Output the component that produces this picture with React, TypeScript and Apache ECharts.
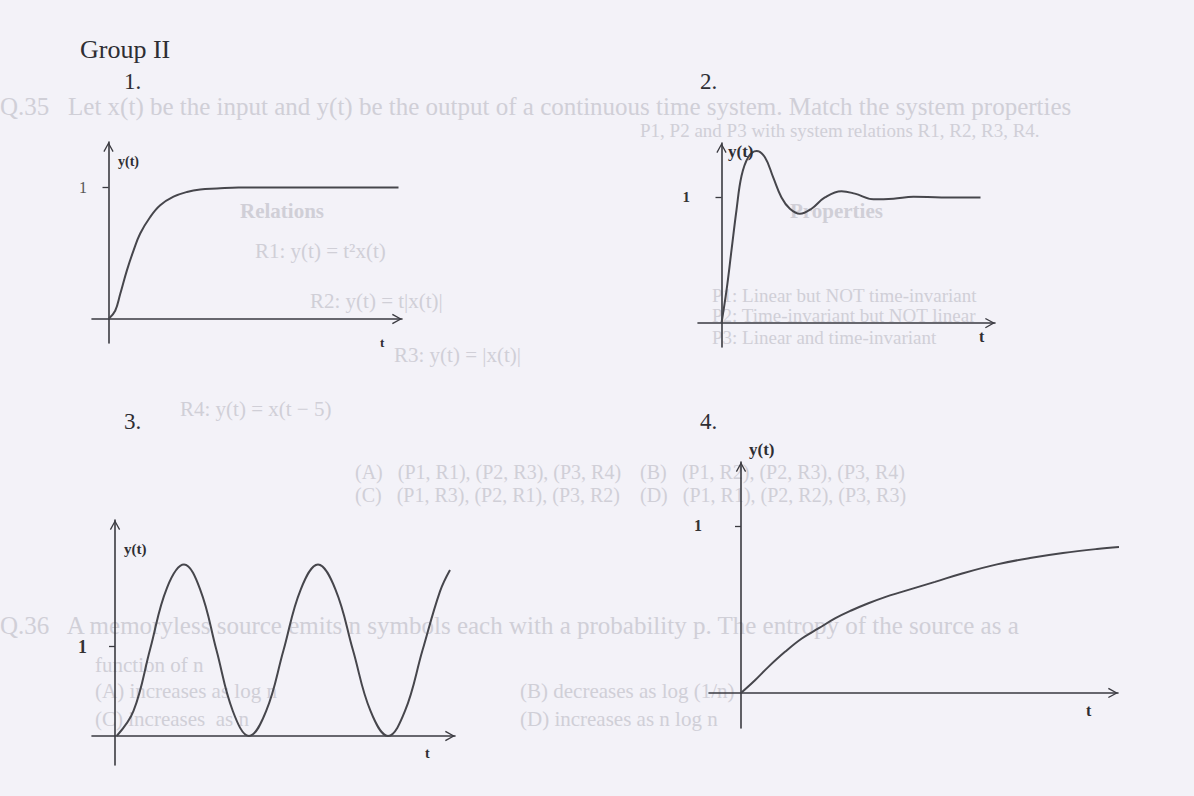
import React, { useEffect, useRef } from "react";
import * as echarts from "echarts";

// ---- data (t in arbitrary units, y normalised so the "1" tick = 1)
const p1T = [0, 0.67, 1.17, 1.84, 2.5, 3.17, 4.17, 5.17, 6.5, 7.84, 9.17, 10.84, 13, 29];
const p1Y = [0, 0.063, 0.19, 0.37, 0.52, 0.65, 0.776, 0.865, 0.93, 0.966, 0.985, 0.992, 1.0, 1.0];

const p2T = [0, 0.5, 1.0, 1.5, 2.0, 2.67, 3.5, 4.34, 5.17, 6.0, 6.84, 7.84, 9.0, 10.34, 12.0, 13.34, 15.2, 17.2, 19.2, 22, 25.9];
const p2Y = [0, 0.26, 0.58, 0.9, 1.17, 1.32, 1.37, 1.32, 1.16, 1.0, 0.91, 0.87, 0.91, 1.0, 1.05, 1.03, 0.985, 0.99, 1.005, 1.0, 1.0];

const p3T = [0.17, 1.85, 3.53, 5.2, 6.9, 8.52, 10.15, 11.78, 13.4, 15.12, 16.85, 18.57, 20.3, 22.05, 23.8, 25.55, 27.3, 29.0, 30.75, 32.5, 33.5];
const p3Y = [0, 0.28, 0.98, 1.66, 1.92, 1.64, 0.96, 0.28, 0, 0.28, 0.96, 1.64, 1.92, 1.64, 0.96, 0.28, 0, 0.28, 0.96, 1.62, 1.86];

const p4T = [0, 0.7, 1.37, 2.2, 3.04, 3.87, 4.7, 5.54, 6.37, 7.2, 8.04, 8.87, 9.7, 11.1, 12.8, 14.45, 16.1, 17.8, 18.9];
const p4Y = [0, 0.076, 0.156, 0.246, 0.326, 0.386, 0.446, 0.495, 0.537, 0.574, 0.605, 0.635, 0.665, 0.717, 0.77, 0.808, 0.838, 0.862, 0.874];

const yTickValues = [1];
const yAxisName = "y(t)";
const xAxisName = "t";
const heading = "Group II";
const panelNumbers = ["1.", "2.", "3.", "4."];

// faint show-through text from the other side of the scanned page
const bleedText = [
  "Q.35   Let x(t) be the input and y(t) be the output of a continuous time system. Match the system properties",
  "P1, P2 and P3 with system relations R1, R2, R3, R4.",
  "Relations",
  "Properties",
  "R1: y(t) = t²x(t)",
  "P1: Linear but NOT time-invariant",
  "R2: y(t) = t|x(t)|",
  "P2: Time-invariant but NOT linear",
  "P3: Linear and time-invariant",
  "R3: y(t) = |x(t)|",
  "R4: y(t) = x(t − 5)",
  "(A)   (P1, R1), (P2, R3), (P3, R4)",
  "(B)   (P1, R2), (P2, R3), (P3, R4)",
  "(C)   (P1, R3), (P2, R1), (P3, R2)",
  "(D)   (P1, R1), (P2, R2), (P3, R3)",
  "Q.36   A memoryless source emits n symbols each with a probability p. The entropy of the source as a",
  "function of n",
  "(A) increases as log n",
  "(B) decreases as log (1/n)",
  "(C) increases  as n",
  "(D) increases as n log n",
];

const INK = "#3a3a40";
const CURVE = "#46464c";
const SERIF = "'Liberation Serif', 'DejaVu Serif', serif";
const ARROW = "path://M5,0 L10,9 L8.9,9.7 L5,2.4 L1.1,9.7 L0,9 Z";

export default function App() {
  const ref = useRef<HTMLDivElement>(null);
  useEffect(() => {
    if (!ref.current) return;
    const chart = echarts.init(ref.current, null, { renderer: "svg" });

    const panels = [
      { t: p1T, y: p1Y, grid: { left: 92, top: 142, width: 310, height: 201 }, x: [-1.65, 29.35], yr: [-0.1825, 1.346], label: { fontWeight: "normal", fontSize: 16, color: "#555" }, lm: 5 },
      { t: p2T, y: p2Y, grid: { left: 698, top: 143, width: 297, height: 204 }, x: [-2.35, 27.35], yr: [-0.19, 1.433], label: { fontWeight: "bold", fontSize: 15, color: "#333" }, lm: 8 },
      { t: p3T, y: p3Y, grid: { left: 92, top: 520, width: 363, height: 245 }, x: [-2.3, 34], yr: [-0.325, 2.419], label: { fontWeight: "bold", fontSize: 18, color: "#333" }, lm: 5 },
      { t: p4T, y: p4Y, grid: { left: 709, top: 462, width: 409, height: 266 }, x: [-1.6, 18.85], yr: [-0.21, 1.383], label: { fontWeight: "bold", fontSize: 16, color: "#333" }, lm: 7 },
    ];

    const axisLine = {
      show: true,
      onZero: true,
      symbol: ["none", ARROW],
      symbolSize: [11, 10],
      symbolOffset: [0, -5],
      lineStyle: { color: INK, width: 1.6 },
    };

    // [left, top, bold, font size]
    const bleedPos: [number, number, boolean, number][] = [
      [0, 94, false, 25], [640, 121, false, 19], [240, 200, true, 21], [790, 200, true, 21],
      [255, 240, false, 21], [712, 286, false, 19], [310, 290, false, 21], [712, 306, false, 19], [712, 328, false, 19],
      [394, 344, false, 21], [180, 398, false, 21],
      [355, 462, false, 20], [640, 462, false, 20], [355, 485, false, 20], [640, 485, false, 20],
      [0, 613, false, 25], [95, 654, false, 21], [95, 680, false, 21], [520, 680, false, 21], [95, 708, false, 21], [520, 708, false, 21],
    ];

    const graphics: any[] = bleedText.map((s, i) => ({
      type: "text",
      left: bleedPos[i][0],
      top: bleedPos[i][1],
      z: 0,
      silent: true,
      style: {
        text: s,
        fill: "#d0cfd7",
        font: `${bleedPos[i][2] ? "bold " : ""}${bleedPos[i][3]}px ${SERIF}`,
      },
    }));

    const headText = (text: string, x: number, y: number, size: number) => ({
      type: "text",
      left: x,
      top: y,
      z: 5,
      style: { text, fill: "#2e2e33", font: `${size}px ${SERIF}` },
    });

    graphics.push(headText(heading, 80, 36, 26));
    const numPos = [[124, 70], [700, 70], [124, 410], [700, 410]];
    panelNumbers.forEach((n, i) => graphics.push(headText(n, numPos[i][0], numPos[i][1], 23)));

    // axis names
    const yNamePos = [[118, 154, 14], [728, 143, 17], [124, 541, 15], [749, 441, 17]];
    yNamePos.forEach(([x, y, s]) =>
      graphics.push({ type: "text", left: x, top: y, z: 5, style: { text: yAxisName, fill: "#2e2e33", font: `bold ${s}px ${SERIF}` } })
    );
    const tNamePos = [[380, 336, 13], [979, 328, 16], [425, 746, 14], [1086, 702, 16]];
    tNamePos.forEach(([x, y, s]) =>
      graphics.push({ type: "text", left: x, top: y, z: 5, style: { text: xAxisName, fill: "#2e2e33", font: `bold ${s}px ${SERIF}` } })
    );

    const option: any = {
      animation: false,
      backgroundColor: "#f3f2f8",
      grid: panels.map((p) => ({ ...p.grid, containLabel: false })),
      xAxis: panels.map((p, i) => ({
        type: "value",
        gridIndex: i,
        min: p.x[0],
        max: p.x[1],
        axisLine,
        axisTick: { show: false },
        axisLabel: { show: false },
        splitLine: { show: false },
      })),
      yAxis: panels.map((p, i) => ({
        type: "value",
        gridIndex: i,
        min: p.yr[0],
        max: p.yr[1],
        axisLine,
        axisTick: { show: true, customValues: yTickValues, length: 6, lineStyle: { color: INK, width: 1.3 } },
        axisLabel: {
          show: true,
          customValues: yTickValues,
          margin: p.lm,
          fontFamily: SERIF,
          ...p.label,
        },
        splitLine: { show: false },
      })),
      series: panels.map((p, i) => ({
        type: "line",
        xAxisIndex: i,
        yAxisIndex: i,
        data: p.t.map((v, k) => [v, p.y[k]]),
        showSymbol: false,
        smooth: 0.4,
        z: 3,
        lineStyle: { color: CURVE, width: 2 },
      })),
      graphic: graphics,
    };

    chart.setOption(option);
    return () => chart.dispose();
  }, []);

  return <div ref={ref} style={{ position: "absolute", left: 0, top: 0, width: 1194, height: 796 }} />;
}
